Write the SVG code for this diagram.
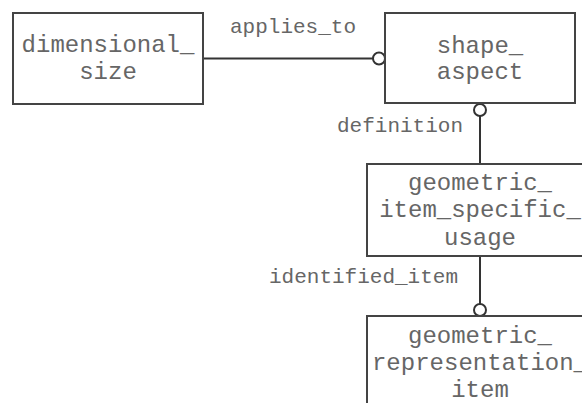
<svg xmlns="http://www.w3.org/2000/svg" width="582" height="403" viewBox="0 0 582 403">
<style>
.box{fill:#fff;stroke:#444;stroke-width:2}
.t{font-family:"Liberation Mono","Courier New",monospace;font-size:24px;fill:#666;text-anchor:middle}
.l{font-family:"Liberation Mono","Courier New",monospace;font-size:21px;fill:#666}
.c{fill:none;stroke:#333;stroke-width:2}
.o{fill:#fff;stroke:#333;stroke-width:2}
</style>
<rect width="582" height="403" fill="#fff"/>
<g id="connectors">
<line class="c" x1="203" y1="58.5" x2="373" y2="58.5"/>
<circle class="o" cx="379" cy="58.5" r="6"/>
<text class="l" x="293" y="33" text-anchor="middle">applies_to</text>
<line class="c" x1="480" y1="116" x2="480" y2="164"/>
<circle class="o" cx="480" cy="110" r="6"/>
<text class="l" x="463" y="132" text-anchor="end">definition</text>
<line class="c" x1="480" y1="256" x2="480" y2="304"/>
<circle class="o" cx="480" cy="310" r="6"/>
<text class="l" x="458" y="283" text-anchor="end">identified_item</text>
</g>
<g id="dimensional_size">
<rect class="box" x="13" y="13" width="190" height="91"/>
<text class="t" x="108" y="52">dimensional_</text>
<text class="t" x="108" y="79">size</text>
</g>
<g id="shape_aspect">
<rect class="box" x="385" y="13" width="190" height="90"/>
<text class="t" x="480" y="53">shape_</text>
<text class="t" x="480" y="79">aspect</text>
</g>
<g id="geometric_item_specific_usage">
<rect class="box" x="367" y="164" width="226" height="92"/>
<text class="t" x="480" y="190">geometric_</text>
<text class="t" x="480" y="217">item_specific_</text>
<text class="t" x="480" y="245">usage</text>
</g>
<g id="geometric_representation_item">
<rect class="box" x="367" y="316" width="226" height="100"/>
<text class="t" x="480" y="343">geometric_</text>
<text class="t" x="480" y="370">representation_</text>
<text class="t" x="480" y="397">item</text>
</g>
</svg>
